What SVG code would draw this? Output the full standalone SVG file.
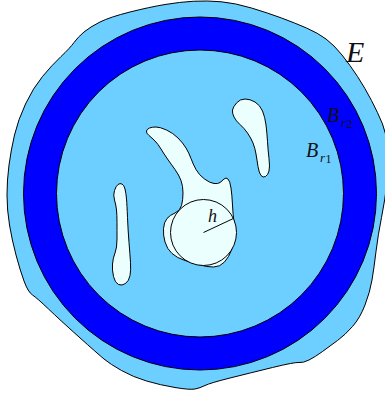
<svg xmlns="http://www.w3.org/2000/svg" width="385" height="397" viewBox="0 0 385 397">
<style>
.ln{stroke:#000;stroke-width:1;stroke-linejoin:round}
.light{fill:#6dcfff}
.dark{fill:#0000ff}
.hole{fill:#ebffff}
.lbl{font-family:"Liberation Serif","DejaVu Serif",serif;font-style:italic;fill:#111}
.sub{font-family:"Liberation Serif","DejaVu Serif",serif;fill:#111}
</style>
<rect width="385" height="397" fill="#fff"/>
<g id="region-E">
<path class="ln light" d="M 100,22 Q 110,17 130,12 Q 150,7 165,4.5 Q 180,2 193.5,1.25 Q 207,0.5 221,1.75 Q 235,3 251.5,8 Q 268,13 281.5,18 Q 295,23 306.5,28 Q 318,33 326,39 Q 334,45 342,55 Q 350,65 357.5,76.5 Q 365,88 371.5,100.5 Q 378,113 382.5,124 Q 387,135 388,150 Q 389,165 387,182.5 Q 385,200 381.5,217.5 Q 378,235 376,251.5 Q 374,268 372,280 Q 370,292 365,305 Q 360,318 352.5,326.5 Q 345,335 337.5,340.5 Q 330,346 322.5,351.5 Q 315,357 309,360 Q 303,363 299,362.5 Q 295,362 272.5,367.5 Q 250,373 230,378 Q 210,383 205,385.5 Q 200,388 195,389 Q 190,390 175,387.5 Q 160,385 146.5,381 Q 133,377 121.5,370.5 Q 110,364 104,359 Q 98,354 79,337 Q 60,320 48.5,309 Q 37,298 32.5,295 Q 28,292 24,281 Q 20,270 16,255 Q 12,240 9.5,225 Q 7,210 7,195 Q 7,180 9,165 Q 11,150 14.5,135 Q 18,120 25.5,104 Q 33,88 42.5,76.5 Q 52,65 61,56.5 Q 70,48 74,42.5 Q 78,37 84,32 Q 90,27 100,22 Z"/>
<text class="lbl" x="346" y="62" font-size="30">E</text>
</g>
<g id="ring-Br2">
<circle class="ln dark" cx="200" cy="193.5" r="176.5"/>
<text class="lbl" x="327" y="122" font-size="20">B</text>
<text class="lbl" x="341" y="126.5" font-size="13">r</text>
<text class="sub" x="346.5" y="127.5" font-size="12">2</text>
</g>
<g id="disk-Br1">
<circle class="ln light" cx="200" cy="193.5" r="143.5"/>
<text class="lbl" x="306" y="157" font-size="20">B</text>
<text class="lbl" x="320" y="161.5" font-size="13">r</text>
<text class="sub" x="325.5" y="162.5" font-size="12">1</text>
</g>
<g id="hole-left">
<path class="ln hole" d="M 114.5,200 Q 113,195 114.5,190.5 Q 116,186 118,184.5 Q 120,183 122,184 Q 124,185 125,189 Q 126,193 126.5,199 Q 127,205 127.5,217.5 Q 128,230 129,242.5 Q 130,255 130.5,262.5 Q 131,270 130,275.5 Q 129,281 125.5,283.5 Q 122,286 118.5,284.5 Q 115,283 113.5,276.5 Q 112,270 112.5,264 Q 113,258 115,253 Q 117,248 117,239 Q 117,230 117,222.5 Q 117,215 116.5,210 Q 116,205 114.5,200 Z"/>
</g>
<g id="hole-right">
<path class="ln hole" d="M 232.5,110 Q 233,107 236.5,103 Q 240,99 245,99 Q 250,99 255,102 Q 260,105 262.5,111 Q 265,117 266,125 Q 267,133 267.5,141.5 Q 268,150 269,158.5 Q 270,167 269,171 Q 268,175 265.5,176.5 Q 263,178 261,175.5 Q 259,173 258,166.5 Q 257,160 256,154 Q 255,148 253,143 Q 251,138 247.5,133 Q 244,128 240,124.5 Q 236,121 234,117 Q 232,113 232.5,110 Z"/>
</g>
<g id="hole-center">
<path class="ln hole" d="M 146.5,131 Q 147,129 149.5,128 Q 152,127 156,127 Q 160,127 166.5,130 Q 173,133 178,138 Q 183,143 186,148 Q 189,153 191,158.5 Q 193,164 196,169.5 Q 199,175 204.5,179 Q 210,183 214,183.5 Q 218,184 220,182.5 Q 222,181 224,179 Q 226,177 228,179 Q 230,181 231,188 Q 232,195 232.5,205 Q 233,215 234,222.5 Q 235,230 234.5,236.5 Q 234,243 231.5,250 Q 229,257 224.5,262 Q 220,267 213.5,267 Q 207,267 200,265 Q 193,263 185,260.5 Q 177,258 172,253.5 Q 167,249 165,242 Q 163,235 163.5,228.5 Q 164,222 167,218.5 Q 170,215 175,213 Q 180,211 181.5,205.5 Q 183,200 183,193 Q 183,186 181,180.5 Q 179,175 175,169.5 Q 171,164 167.5,159 Q 164,154 161,149 Q 158,144 155,141 Q 152,138 149,135.5 Q 146,133 146.5,131 Z"/>
</g>
<g id="ball-h">
<circle class="ln hole" cx="203.5" cy="232.5" r="33"/>
<line class="ln" x1="203.5" y1="232.5" x2="233.4" y2="218.5"/>
<text class="lbl" x="208" y="222" font-size="18">h</text>
</g>
</svg>
